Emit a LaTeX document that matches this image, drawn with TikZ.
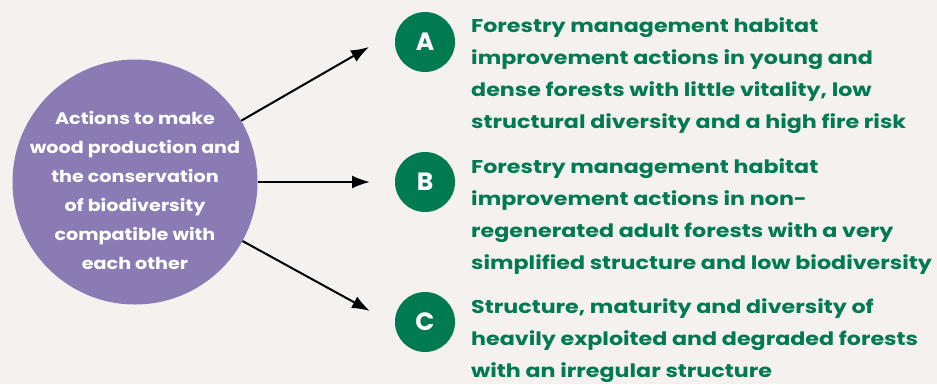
\documentclass[tikz,border=0pt]{standalone}
\usepackage{fontspec}
\setmainfont{Poppins}
\newfontfamily\widefont{Poppins}[FakeStretch=1.2]
\newfontfamily\roundfont{Poppins}[FakeStretch=1.16]
\usepackage{tikz}
\usetikzlibrary{
    arrows.meta,
    positioning
}
\definecolor{paper}{HTML}{F4F1EE}
\definecolor{lilac}{HTML}{8A7BB4}
\definecolor{pine}{HTML}{007A50}

\begin{document}
\begin{tikzpicture}[x=1pt, y=-1pt]
                        \fill[paper] (0, 0) rectangle (937, 384);
                        \useasboundingbox (0, 0) rectangle (937, 384);

                        \node[circle, fill=lilac, minimum size=245pt, inner sep=0pt] (goal) at (135, 182) {};
                        \node[white, align=center, font=\roundfont\fontsize{16.5}{29}\selectfont\bfseries] (goaltxt) at (135, 190)
                        {Actions to make\\wood production and\\the conservation\\of biodiversity\\compatible with\\each other};

                        \node[circle, fill=pine, minimum size=60pt, inner sep=0pt, text=white, font=\fontsize{25}{25}\selectfont\bfseries] (ca) at (425, 42) {A};
                        \node[circle, fill=pine, minimum size=60pt, inner sep=0pt, text=white, font=\fontsize{25}{25}\selectfont\bfseries] (cb) at (425, 182) {B};
                        \node[circle, fill=pine, minimum size=60pt, inner sep=0pt, text=white, font=\fontsize{25}{25}\selectfont\bfseries] (cc) at (425, 322) {C};

                        \node[anchor=north west, inner sep=0pt, align=left, text=pine, font=\widefont\fontsize{18.5}{32}\selectfont\bfseries] (ta) at (471, 17)
                        {Forestry management habitat\\improvement actions in young and\\dense forests with little vitality, low\\structural diversity and a high fire risk};
                        \node[anchor=north west, inner sep=0pt, align=left, text=pine, font=\widefont\fontsize{18.5}{32}\selectfont\bfseries] (tb) at (471, 158)
                        {Forestry management habitat\\improvement actions in non-\\regenerated adult forests with a very\\simplified structure and low biodiversity};
                        \node[anchor=north west, inner sep=0pt, align=left, text=pine, font=\widefont\fontsize{18.5}{32}\selectfont\bfseries] (tc) at (471, 298)
                        {Structure, maturity and diversity of\\heavily exploited and degraded forests\\with an irregular structure};

                        \coordinate (pa) at (369, 47);
                        \coordinate (pb) at (370, 182);
                        \coordinate (pc) at (370, 311);

                        \draw[line width=2pt, -{Latex[length=18pt, width=13pt]}]
                        (goal) edge (pa)
                        (goal) edge (pb)
                        (goal) edge (pc);
                    \end{tikzpicture}
\end{document}
